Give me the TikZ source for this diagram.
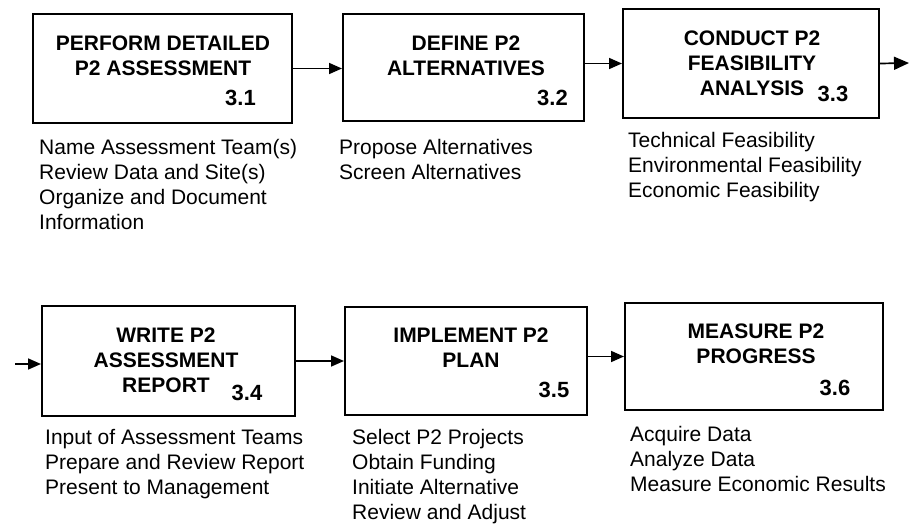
\documentclass[tikz,border=0pt]{standalone}
\usepackage{fontspec}
\setmainfont{Liberation Sans}
\usetikzlibrary{arrows.meta}
\begin{document}
\begin{tikzpicture}[x=1pt,y=-1pt,
  box/.style={draw,line width=2pt,inner sep=0pt,minimum width=#1},
  ttl/.style={font=\fontsize{21}{25}\selectfont\bfseries,align=center,inner sep=0pt},
  num/.style={font=\fontsize{22}{25}\selectfont\bfseries,inner sep=0pt},
  lst/.style={font=\fontsize{21}{25}\selectfont,align=left,anchor=north west,inner sep=0pt},
  flow/.style={line width=1.7pt,-{Triangle[length=13pt,width=11pt]}},
  bigflow/.style={line width=1.7pt,-{Triangle[length=15pt,width=13pt]}}]
\useasboundingbox (0,0) rectangle (910,524);
% boxes
\node[box=259pt,minimum height=109pt] (b1) at (162.5,68.5) {};
\node[box=241pt,minimum height=107pt] (b2) at (463.5,67.5) {};
\node[box=256pt,minimum height=109pt] (b3) at (751,63.5) {};
\node[box=253pt,minimum height=110pt] (b4) at (168.5,361) {};
\node[box=242pt,minimum height=108pt] (b5) at (466,361) {};
\node[box=258pt,minimum height=107pt] (b6) at (754,356.5) {};
% titles
\node[ttl] (t1) at (163,55.5) {PERFORM DETAILED\\P2 ASSESSMENT};
\node[ttl] (t2) at (466,55.5) {DEFINE P2\\ALTERNATIVES};
\node[ttl] (t3) at (752,63) {CONDUCT P2\\FEASIBILITY\\ANALYSIS};
\node[ttl] (t4) at (166,360.5) {WRITE P2\\ASSESSMENT\\REPORT};
\node[ttl] (t5) at (471,347.5) {IMPLEMENT P2\\PLAN};
\node[ttl] (t6) at (756,343.5) {MEASURE P2\\PROGRESS};
% numbers
\node[num] (n1) at (240.5,98) {3.1};
\node[num] (n2) at (552.5,98) {3.2};
\node[num] (n3) at (833,94) {3.3};
\node[num] (n4) at (247,393) {3.4};
\node[num] (n5) at (554,390) {3.5};
\node[num] (n6) at (835,388) {3.6};
% lists
\node[lst] (l1) at (39,139) {Name Assessment Team(s)\\Review Data and Site(s)\\Organize and Document\\Information};
\node[lst] (l2) at (339,139) {Propose Alternatives\\Screen Alternatives};
\node[lst] (l3) at (628,132) {Technical Feasibility\\Environmental Feasibility\\Economic Feasibility};
\node[lst] (l4) at (45,429) {Input of Assessment Teams\\Prepare and Review Report\\Present to Management};
\node[lst] (l5) at (352,429) {Select P2 Projects\\Obtain Funding\\Initiate Alternative\\Review and Adjust};
\node[lst] (l6) at (630,426) {Acquire Data\\Analyze Data\\Measure Economic Results};
% connectors
\coordinate (out) at (909,63);
\coordinate (in) at (15,364);
\draw[flow] (b1.east) -- (b1.east -| b2.west);
\draw[flow] (b3.west -| b2.east) -- (b3.west);
\draw[bigflow] (b3.west -| b3.east) -- (out);
\draw[flow] (in) -- (in -| b4.west);
\draw[flow] (b4.east) -- (b4.east -| b5.west);
\draw[flow] (b6.west -| b5.east) -- (b6.west);
\end{tikzpicture}
\end{document}
